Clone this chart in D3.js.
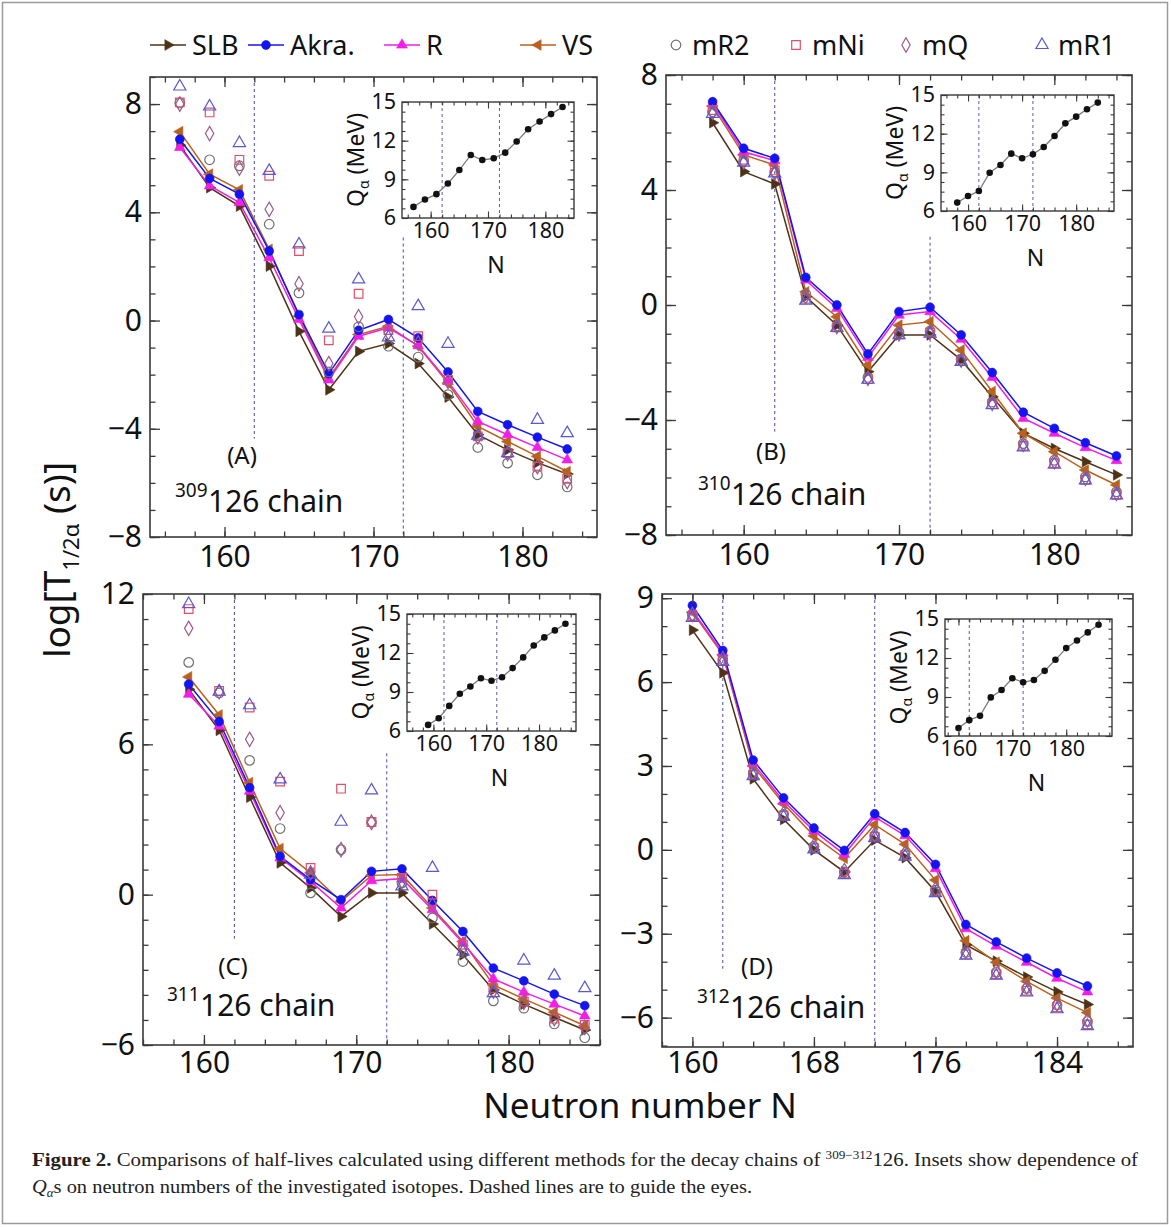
<!DOCTYPE html>
<html><head><meta charset="utf-8">
<script src="https://cdn.jsdelivr.net/npm/d3@7"></script>
<style>body{margin:0;background:#fff}svg{display:block}</style>
</head><body>
<svg id="chart" width="1171" height="1227"></svg>
<script>
// ---------------- DATA ----------------
const N_A=[157,159,161,163,165,167,169,171,173,175,177,179,181,183];
const slbA=[6.48,4.91,4.23,2.01,-0.40,-2.56,-1.14,-0.85,-1.59,-2.83,-4.22,-4.78,-5.25,-5.67];
const akraA=[6.70,5.25,4.67,2.57,0.22,-1.96,-0.36,0.04,-0.64,-1.90,-3.36,-3.85,-4.31,-4.75];
const rA=[6.40,4.98,4.36,2.32,0.04,-2.19,-0.58,-0.27,-0.93,-2.25,-3.73,-4.22,-4.69,-5.15];
const vsA=[6.98,5.41,4.83,2.63,0.16,-2.12,-0.52,-0.21,-0.95,-2.31,-3.91,-4.47,-5.02,-5.58];
const mR2A=[8.04,5.94,5.72,3.56,1.02,-1.90,-0.23,-0.95,-1.35,-2.74,-4.69,-5.27,-5.70,-6.15];
const mNiA=[8.06,7.69,5.94,5.35,2.57,-0.73,0.99,-0.35,-0.58,-2.19,-4.28,-4.90,-5.40,-5.85];
const mQA=[8.00,6.91,5.63,4.11,1.36,-1.59,0.14,-0.45,-0.83,-2.25,-4.30,-4.92,-5.40,-5.95];
const mR1A=[8.65,7.91,6.56,5.53,2.81,-0.30,1.52,-0.62,0.53,-0.86,-4.25,-4.90,-3.67,-4.16];
const qA=[6.86,7.43,7.85,8.68,9.72,10.89,10.50,10.63,11.07,11.93,12.89,13.49,14.06,14.61];

const N_B=[158,160,162,164,166,168,170,172,174,176,178,180,182,184];
const slbB=[6.34,4.64,4.21,0.29,-0.70,-2.32,-1.04,-1.04,-1.91,-3.19,-4.46,-4.99,-5.45,-5.91];
const akraB=[7.07,5.45,5.10,0.96,0.00,-1.70,-0.23,-0.08,-1.04,-2.35,-3.73,-4.29,-4.79,-5.25];
const rB=[7.01,5.33,5.02,0.87,-0.12,-1.82,-0.35,-0.23,-1.19,-2.52,-3.94,-4.46,-4.96,-5.41];
const vsB=[6.92,5.22,4.87,0.46,-0.41,-2.09,-0.70,-0.58,-1.57,-3.01,-4.46,-5.10,-5.74,-6.26];
const mR2B=[6.72,5.00,4.62,0.38,-0.72,-2.52,-0.95,-0.90,-1.88,-3.38,-4.82,-5.40,-5.98,-6.50];
const mNiB=[6.78,5.05,4.68,0.22,-0.78,-2.58,-1.02,-0.96,-1.95,-3.45,-4.90,-5.50,-6.08,-6.60];
const mQB=[6.70,4.98,4.60,0.30,-0.75,-2.55,-1.00,-0.94,-1.92,-3.42,-4.85,-5.45,-6.03,-6.55];
const mR1B=[6.65,4.95,4.58,0.15,-0.80,-2.60,-1.05,-1.00,-1.98,-3.48,-4.95,-5.55,-6.10,-6.62];
const qB=[6.65,7.16,7.55,8.97,9.57,10.45,10.09,10.40,10.97,11.82,12.80,13.32,13.89,14.41];

const N_C=[159,161,163,165,167,169,171,173,175,177,179,181,183,185];
const slbC=[8.20,6.56,3.89,1.27,0.27,-0.87,0.07,0.07,-1.17,-2.40,-3.80,-4.37,-4.89,-5.40];
const akraC=[8.40,6.91,4.27,1.53,0.60,-0.20,0.93,1.03,-0.23,-1.47,-2.93,-3.44,-3.97,-4.43];
const rC=[8.00,6.73,4.13,1.47,0.53,-0.53,0.56,0.64,-0.60,-1.93,-3.36,-3.89,-4.37,-4.84];
const vsC=[8.69,7.17,4.47,1.84,0.87,-0.27,0.77,0.80,-0.53,-1.87,-3.60,-4.16,-4.69,-5.23];
const mR2C=[9.27,8.05,5.36,2.64,0.07,1.80,2.89,0.47,-0.93,-2.67,-4.24,-4.53,-5.16,-5.71];
const mNiC=[11.40,8.13,7.47,4.51,1.07,4.23,2.90,0.67,0.00,-2.00,-3.73,-4.27,-4.95,-5.20];
const mQC=[10.63,8.10,6.20,3.27,0.87,1.80,2.89,0.53,-0.40,-2.13,-3.85,-4.30,-4.95,-5.30];
const mR1C=[11.60,8.10,7.56,4.60,0.80,2.91,4.16,0.33,1.07,-2.27,-3.93,-2.63,-3.23,-3.73];
const qC=[6.47,6.98,7.93,8.86,9.42,10.06,9.86,10.14,10.84,11.66,12.58,13.20,13.74,14.25];

const N_D=[160,162,164,166,168,170,172,174,176,178,180,182,184,186];
const slbD=[7.86,6.33,2.54,1.09,0.00,-0.79,0.35,-0.28,-1.49,-3.40,-3.98,-4.55,-5.08,-5.53];
const akraD=[8.74,7.13,3.21,1.86,0.78,-0.02,1.29,0.62,-0.52,-2.67,-3.29,-3.87,-4.40,-4.87];
const rD=[8.56,7.04,3.09,1.74,0.68,-0.16,1.18,0.51,-0.67,-2.82,-3.44,-4.02,-4.59,-5.08];
const vsD=[8.50,6.98,3.00,1.65,0.50,-0.30,0.90,0.20,-1.08,-3.25,-4.02,-4.70,-5.30,-5.82];
const mR2D=[8.39,6.80,2.74,1.27,0.12,-0.79,0.51,-0.14,-1.44,-3.67,-4.38,-4.96,-5.55,-6.14];
const mNiD=[8.35,6.76,2.68,1.22,0.06,-0.85,0.46,-0.20,-1.50,-3.74,-4.45,-5.04,-5.63,-6.24];
const mQD=[8.42,6.84,2.78,1.30,0.15,-0.74,0.55,-0.10,-1.40,-3.62,-4.33,-4.90,-5.50,-6.08];
const mR1D=[8.30,6.72,2.64,1.18,0.02,-0.90,0.42,-0.24,-1.55,-3.78,-4.50,-5.10,-5.70,-6.30];
const qD=[6.62,7.22,7.55,8.97,9.54,10.44,10.13,10.31,11.01,11.86,12.76,13.35,13.97,14.56];

const legendNames=["SLB","Akra.","R","VS","mR2","mNi","mQ","mR1"];
const xTicksABC=[160,170,180];
const xTicksD=[160,168,176,184];
const yTicksAB=[-8,-4,0,4,8];
const yTicksC=[-6,0,6,12];
const yTicksD=[-6,-3,0,3,6,9];
const qTicks=[6,9,12,15];
const magicLines=[162,172];

// ---------------- STYLE ----------------
const FS="'Noto Sans','DejaVu Sans',sans-serif";
const COL={slb:"#4e3218",akra:"#1414f0",r:"#f21ee6",vs:"#b8621e",mR2:"#707070",mNi:"#e25068",mQ:"#9a5a8e",mR1:"#5858d2"};
const AX="#3a3a3a";
const svg=d3.select("#chart");

svg.append("rect").attr("x",2.5).attr("y",2.5).attr("width",1165).attr("height",1221)
  .attr("fill","none").attr("stroke","#9a9a9a").attr("stroke-width",1.5);

function symPath(type,size){return d3.symbol().type(type).size(size)();}
const SYM={
  slb:{p:symPath(d3.symbolTriangle,50),rot:90,fill:true},
  akra:{p:symPath(d3.symbolCircle,62),rot:0,fill:true},
  r:{p:symPath(d3.symbolTriangle,50),rot:0,fill:true},
  vs:{p:symPath(d3.symbolTriangle,50),rot:-90,fill:true},
  mR2:{p:symPath(d3.symbolCircle,72),rot:0,fill:false},
  mNi:{p:symPath(d3.symbolSquare,74),rot:0,fill:false},
  mQ:{p:symPath(d3.symbolDiamond,60),rot:0,fill:false},
  mR1:{p:symPath(d3.symbolTriangle,64),rot:0,fill:false}
};
function marker(g,key,px,py){
  const s=SYM[key];
  g.append("path").attr("d",s.p).attr("transform",`translate(${px},${py}) rotate(${s.rot})`)
   .attr("fill",s.fill?COL[key]:"none").attr("stroke",COL[key]).attr("stroke-width",s.fill?0.6:1.2);
}
function minorVals(dom,step){const o=[];let v=Math.ceil(dom[0]/step-1e-9)*step;for(;v<=dom[1]+1e-9;v+=step)o.push(+v.toFixed(4));return o;}

function axes(g,x,y,o){
  const [x0,x1]=x.range(), [yb,yt]=y.range();
  const clean=s=>s.select(".domain").remove();
  const xs=o.xMajor, ys=o.yMajor;
  g.append("g").attr("transform",`translate(0,${yb})`).call(d3.axisBottom(x).tickValues(minorVals(x.domain(),o.xMinor)).tickSize(-o.minL).tickFormat("")).call(clean);
  const bx=g.append("g").attr("transform",`translate(0,${yb})`).call(d3.axisBottom(x).tickValues(xs).tickSize(-o.majL).tickPadding(o.xPad).tickFormat(d3.format("d"))).call(clean);
  g.append("g").attr("transform",`translate(0,${yt})`).call(d3.axisTop(x).tickValues(minorVals(x.domain(),o.xMinor)).tickSize(-o.minL).tickFormat("")).call(clean);
  g.append("g").attr("transform",`translate(0,${yt})`).call(d3.axisTop(x).tickValues(xs).tickSize(-o.majL).tickFormat("")).call(clean);
  g.append("g").attr("transform",`translate(${x0},0)`).call(d3.axisLeft(y).tickValues(minorVals(y.domain(),o.yMinor)).tickSize(-o.minL).tickFormat("")).call(clean);
  const ly=g.append("g").attr("transform",`translate(${x0},0)`).call(d3.axisLeft(y).tickValues(ys).tickSize(-o.majL).tickPadding(o.yPad).tickFormat(d3.format("d"))).call(clean);
  g.append("g").attr("transform",`translate(${x1},0)`).call(d3.axisRight(y).tickValues(minorVals(y.domain(),o.yMinor)).tickSize(-o.minL).tickFormat("")).call(clean);
  g.append("g").attr("transform",`translate(${x1},0)`).call(d3.axisRight(y).tickValues(ys).tickSize(-o.majL).tickFormat("")).call(clean);
  g.selectAll(".tick line").attr("stroke",AX).attr("stroke-width",o.tw);
  [bx,ly].forEach(a=>a.selectAll("text").attr("font-family",FS).attr("font-size",o.fs).attr("fill","#111"));
  g.append("rect").attr("x",x0).attr("y",yt).attr("width",x1-x0).attr("height",yb-yt)
    .attr("fill","none").attr("stroke",AX).attr("stroke-width",o.bw);
}

function panel(c){
  const g=svg.append("g");
  const x=d3.scaleLinear().domain(c.xDom).range([c.box[0],c.box[1]]);
  const y=d3.scaleLinear().domain(c.yDom).range([c.box[3],c.box[2]]);
  c.guides.forEach((gd,i)=>{
    g.append("line").attr("x1",x(magicLines[i])).attr("x2",x(magicLines[i]))
     .attr("y1",y(gd[0])).attr("y2",y(gd[1])).attr("stroke","#5a5ab4").attr("stroke-width",1.1).attr("stroke-dasharray","3,3");
  });
  const line=d3.line().x(d=>x(d[0])).y(d=>y(d[1]));
  ["slb","vs","r","akra"].forEach(k=>{
    g.append("path").attr("d",line(c.N.map((n,i)=>[n,c[k][i]]))).attr("fill","none")
     .attr("stroke",COL[k]).attr("stroke-width",1.5);
  });
  ["slb","vs","r","akra"].forEach(k=>c.N.forEach((n,i)=>marker(g,k,x(n),y(c[k][i]))));
  ["mR2","mNi","mQ","mR1"].forEach(k=>c.N.forEach((n,i)=>marker(g,k,x(n),y(c[k][i]))));
  axes(g,x,y,{xMajor:c.xMajor,yMajor:c.yMajor,xMinor:2,yMinor:1,minL:5.5,majL:10,xPad:c.xPad,yPad:8,fs:30,tw:1.3,bw:1.6});
  g.append("text").attr("x",c.lab[0]).attr("y",c.lab[1]).attr("text-anchor","middle")
    .attr("font-family",FS).attr("font-size",24).attr("fill","#111").text(c.name);
  g.append("text").attr("x",c.chain[0]).attr("y",c.chain[1]-15).attr("font-family",FS).attr("font-size",19).attr("fill","#111").text(c.sup);
  g.append("text").attr("x",c.chain[0]+33).attr("y",c.chain[1]).attr("font-family",FS).attr("font-size",30).attr("fill","#111").text("126 chain");
  // inset
  const ib=c.ibox;
  const ix=d3.scaleLinear().domain(c.ixDom).range([ib[0],ib[1]]);
  const iy=d3.scaleLinear().domain([6,15]).range([ib[3],ib[2]]);
  const ig=svg.append("g");
  ig.append("rect").attr("x",ib[0]).attr("y",ib[2]).attr("width",ib[1]-ib[0]).attr("height",ib[3]-ib[2]).attr("fill","#fff");
  magicLines.forEach(m=>ig.append("line").attr("x1",ix(m)).attr("x2",ix(m)).attr("y1",ib[2]).attr("y2",ib[3])
     .attr("stroke","#5a5ab4").attr("stroke-width",1).attr("stroke-dasharray","3,3"));
  ig.append("path").attr("d",d3.line().x(d=>ix(d[0])).y(d=>iy(d[1]))(c.N.map((n,i)=>[n,c.q[i]])))
    .attr("fill","none").attr("stroke","#7a7a7a").attr("stroke-width",1.3);
  c.N.forEach((n,i)=>ig.append("circle").attr("cx",ix(n)).attr("cy",iy(c.q[i])).attr("r",3.3).attr("fill","#111"));
  axes(ig,ix,iy,{xMajor:xTicksABC,yMajor:qTicks,xMinor:2,yMinor:0.75,minL:3.5,majL:6.5,xPad:5,yPad:6,fs:21.5,tw:1.1,bw:1.4});
  const qt=ig.append("text").attr("transform",`translate(${ib[0]-38},${(ib[2]+ib[3])/2}) rotate(-90)`)
    .attr("text-anchor","middle").attr("font-family",FS).attr("font-size",23).attr("fill","#111");
  qt.append("tspan").text("Q");
  qt.append("tspan").attr("font-size",14).attr("dy",5).text("α");
  qt.append("tspan").attr("dy",-5).text(" (MeV)");
  ig.append("text").attr("x",(ib[0]+ib[1])/2+8).attr("y",ib[3]+55).attr("text-anchor","middle")
    .attr("font-family",FS).attr("font-size",23).attr("fill","#111").text("N");
}

panel({N:N_A,slb:slbA,akra:akraA,r:rA,vs:vsA,mR2:mR2A,mNi:mNiA,mQ:mQA,mR1:mR1A,q:qA,
  box:[150,597,77,537],xDom:[155,185],yDom:[-8,9],xMajor:xTicksABC,yMajor:yTicksAB,xPad:9,
  guides:[[9,-4.37],[3.07,-8]],name:"(A)",lab:[242,464],sup:"309",chain:[175,512],
  ibox:[402,574,102,218],ixDom:[155,185]});
panel({N:N_B,slb:slbB,akra:akraB,r:rB,vs:vsB,mR2:mR2B,mNi:mNiB,mQ:mQB,mR1:mR1B,q:qB,
  box:[666,1132,75,535],xDom:[155,185],yDom:[-8,8],xMajor:xTicksABC,yMajor:yTicksAB,xPad:9,
  guides:[[8,-4.4],[2.37,-8]],name:"(B)",lab:[771,460],sup:"310",chain:[698,505],
  ibox:[941,1114,95,211],ixDom:[155,187]});
panel({N:N_C,slb:slbC,akra:akraC,r:rC,vs:vsC,mR2:mR2C,mNi:mNiC,mQ:mQC,mR1:mR1C,q:qC,
  box:[143,600,594,1045],xDom:[156,186],yDom:[-6,12],xMajor:xTicksABC,yMajor:yTicksC,xPad:7,
  guides:[[12,-1.76],[5.64,-6]],name:"(C)",lab:[233,975],sup:"311",chain:[167,1016],
  ibox:[407,576,614,731],ixDom:[155,187]});
panel({N:N_D,slb:slbD,akra:akraD,r:rD,vs:vsD,mR2:mR2D,mNi:mNiD,mQ:mQD,mR1:mR1D,q:qD,
  box:[662,1133,594,1047],xDom:[158,189],yDom:[-7.05,9.15],xMajor:xTicksD,yMajor:yTicksD,xPad:5,
  guides:[[9.15,-4.25],[9.15,-7.05]],name:"(D)",lab:[757,975],sup:"312",chain:[697,1018],
  ibox:[945,1112,619,736],ixDom:[157.5,188.5]});

// ---------------- LEGEND ----------------
const legKeys=["slb","akra","r","vs","mR2","mNi","mQ","mR1"];
const legX=[150,248,384,520,664,784,894,1030];
const lg=svg.append("g");
legKeys.forEach((k,i)=>{
  const lx=legX[i], ly=45;
  if(i<4){
    lg.append("line").attr("x1",lx).attr("x2",lx+36).attr("y1",ly).attr("y2",ly).attr("stroke",COL[k]).attr("stroke-width",1.5);
    marker(lg,k,lx+18,ly);
    lg.append("text").attr("x",lx+42).attr("y",ly+10).attr("font-family",FS).attr("font-size",27).attr("fill","#111").text(legendNames[i]);
  } else {
    marker(lg,k,lx+12,ly);
    lg.append("text").attr("x",lx+28).attr("y",ly+10).attr("font-family",FS).attr("font-size",27).attr("fill","#111").text(legendNames[i]);
  }
});

// ---------------- AXIS TITLES ----------------
const yt=svg.append("text").attr("transform","translate(70,560) rotate(-90)").attr("text-anchor","middle")
  .attr("font-family",FS).attr("font-size",37).attr("fill","#111");
yt.append("tspan").text("log[T");
yt.append("tspan").attr("font-size",22).attr("dy",9).text("1/2α");
yt.append("tspan").attr("dy",-9).text(" (s)]");
svg.append("text").attr("x",640).attr("y",1118).attr("text-anchor","middle").attr("font-family",FS)
  .attr("font-size",35).attr("fill","#111").text("Neutron number N");

// ---------------- CAPTION ----------------
const SERIF="'Liberation Serif','DejaVu Serif',serif";
const c1=svg.append("text").attr("x",32).attr("y",1166).attr("font-family",SERIF).attr("font-size",19).attr("fill","#222")
  .attr("textLength",1106).attr("lengthAdjust","spacingAndGlyphs");
c1.append("tspan").attr("font-weight","bold").text("Figure 2.");
c1.append("tspan").text(" Comparisons of half-lives calculated using different methods for the decay chains of ");
c1.append("tspan").attr("font-size",12).attr("dy",-7).text("309−312");
c1.append("tspan").attr("dy",7).text("126. Insets show dependence of");
const c2=svg.append("text").attr("x",32).attr("y",1193).attr("font-family",SERIF).attr("font-size",19).attr("fill","#222")
  .attr("textLength",720).attr("lengthAdjust","spacingAndGlyphs");
c2.append("tspan").attr("font-style","italic").text("Q");
c2.append("tspan").attr("font-style","italic").attr("font-size",12).attr("dy",4).text("α");
c2.append("tspan").attr("dy",-4).text("s on neutron numbers of the investigated isotopes. Dashed lines are to guide the eyes.");
</script>
</body></html>
